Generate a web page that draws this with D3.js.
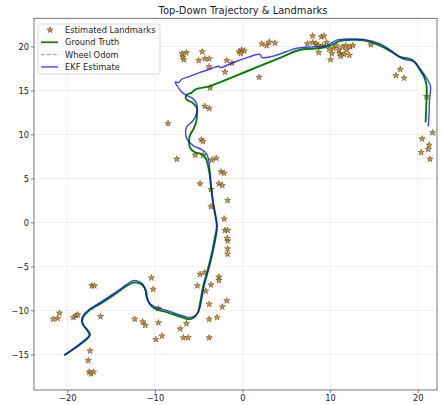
<!DOCTYPE html>
<html>
<head>
<meta charset="utf-8">
<script src="https://cdn.jsdelivr.net/npm/d3@7"></script>
<style>
  body { margin: 0; background: #fff; }
  svg text { font-family: "DejaVu Sans", sans-serif; fill: #222; }
</style>
</head>
<body>
<svg></svg>
<script>
const width = 443, height = 405;
const margin = { left: 34, right: 6, top: 18.3, bottom: 15 };

// data (x, y in metres)
const groundTruth = [
  [-20.35,-15.1],[-19.0,-14.2],[-17.6,-13.1],[-17.45,-12.8],[-17.7,-12.3],[-18.2,-11.6],[-18.3,-11.1],
  [-18.1,-10.6],[-17.5,-10.0],[-16,-9.1],[-14.5,-8.1],[-13.2,-7.2],[-12.5,-6.85],[-12.0,-6.85],[-11.4,-7.15],
  [-11.0,-7.8],[-10.9,-8.5],[-10.6,-9.25],[-10.1,-9.75],[-8.5,-10.25],[-7,-10.75],[-6.2,-11.0],[-5.6,-10.85],
  [-5.1,-10.25],[-4.85,-9.2],[-4.5,-7.3],[-4.0,-5.5],[-3.5,-3.5],[-3.2,-2.0],[-2.94,-0.5],[-3.15,1.0],
  [-3.35,2.2],[-3.6,4.0],[-3.75,5.5],[-4.0,6.7],[-4.15,7.2],[-4.6,7.75],[-5.5,8.0],[-6.0,8.5],[-6.1,9.2],
  [-6.0,9.9],[-5.6,10.6],[-5.3,11.4],[-5.2,12.2],[-5.2,13.0],[-5.7,13.6],[-6.3,13.9],[-6.5,14.3],
  [-6.2,14.6],[-5.8,14.75],[-5.4,15.1],[-3.7,15.5],[-1.4,16.4],[2.0,17.8],[4.5,18.8],[6.5,19.6],
  [8.8,19.8],[10.0,20.1],[11.1,20.6],[12.5,20.75],[13.8,20.7],[15.7,20.1],[17.0,19.4],[17.96,18.8],
  [19.1,18.6],[19.7,18.2],[20.2,17.4],[20.7,16.6],[21.0,15.6],[21.0,14.0],[20.95,12.5],[20.9,11.4]
];
const ekfEstimate = [
  [-20.35,-15.1],[-19.0,-14.15],[-17.6,-13.0],[-17.4,-12.7],[-17.7,-12.2],[-18.25,-11.6],[-18.35,-11.0],
  [-18.1,-10.45],[-17.5,-9.9],[-16,-8.95],[-14.5,-7.95],[-13.2,-7.05],[-12.5,-6.62],[-12.0,-6.65],[-11.4,-7.0],
  [-11.1,-7.7],[-11.0,-8.4],[-10.7,-9.1],[-10.1,-9.55],[-8.5,-10.05],[-7,-10.55],[-6.1,-10.8],[-5.5,-10.65],
  [-5.0,-10.1],[-4.75,-9.2],[-4.4,-7.3],[-3.9,-5.5],[-3.4,-3.5],[-3.05,-1.8],[-2.9,-0.4],[-3.1,1.0],
  [-3.35,2.2],[-3.55,4.0],[-3.7,5.5],[-3.85,7.0],[-4.1,7.8],[-4.6,8.25],[-5.6,8.7],[-6.3,9.4],[-6.5,10.2],
  [-6.35,10.9],[-5.7,11.5],[-5.25,12.4],[-5.2,13.4],[-5.7,14.1],[-6.5,14.5],[-7.1,15.0],[-7.5,15.6],
  [-7.7,15.95],[-7.3,15.9],[-6.9,16.3],[-6.0,16.6],[-5.0,17.0],[-3.9,17.35],[-2.7,17.75],[-2.55,17.6],
  [-1.2,18.1],[0,18.55],[2.0,19.1],[2.2,18.75],[3.5,18.9],[5.0,19.4],[6.2,19.8],[8.0,19.95],[9.6,20.1],
  [10.7,20.7],[12.2,20.85],[13.8,20.8],[15.7,20.3],[17.0,19.5],[18.3,18.6],[19.5,18.3],[20.4,17.3],
  [21.0,16.4],[21.45,15.5],[21.35,14.0],[21.3,12.5],[21.2,10.9]
];
const wheelOdom = []; // not visible in the picture (hidden under the other tracks)
const landmarks = [
  [-21.6,-11.0],[-21.1,-10.9],[-20.9,-10.3],[-19.3,-10.8],[-19.0,-10.6],[-18.8,-10.5],[-17.2,-7.2],[-16.9,-7.2],
  [-16.2,-10.7],[-17.4,-14.6],[-17.6,-15.7],[-17.5,-17.0],[-17.3,-17.2],[-17.0,-17.0],
  [-12.3,-11.0],[-11.4,-11.3],[-11.1,-11.7],[-10.4,-6.3],[-10.2,-7.6],[-9.6,-9.8],[-9.6,-11.4],[-9.2,-12.9],
  [-9.9,-13.3],[-7.1,-12.1],[-6.75,-13.1],[-6.2,-13.1],[-6.4,-11.5],
  [-4.85,-5.9],[-4.3,-5.7],[-2.7,-6.2],[-2.7,-6.6],[-3.6,-7.1],[-5.15,-7.2],[-4.2,-7.8],[-1.8,-8.9],
  [-2.3,-9.6],[-3.8,-9.3],[-2.9,-10.8],[-3.8,-11.0],[-3.8,-13.1],
  [-1.7,-3.6],[-1.7,-3.0],[-1.7,-2.1],[-1.75,-1.8],[-2.0,-0.9],[-1.7,-0.9],[-2.1,0.4],[-3.6,1.8],[-1.7,2.5],
  [-4.85,4.4],[-3.6,3.75],[-2.7,4.4],[-2.3,4.2],[-2.45,5.75],[-2.1,5.6],[-3.5,7.1],[-3.0,7.3],[-5.4,7.65],
  [-4.5,7.6],[-7.5,7.2],[-4.7,9.4],[-4.5,9.2],[-8.5,11.25],[-4.3,13.2],[-3.8,12.95],[-3.7,15.3],[1.9,16.5],
  [-6.9,19.2],[-6.4,19.3],[-6.8,18.8],[-6.7,18.5],[-4.6,19.4],[-5.0,18.4],[-4.3,18.6],[-3.8,18.6],[-3.8,17.7],
  [-1.8,18.4],[-1.2,18.1],[-2.0,17.1],[-0.4,19.4],[-0.1,19.6],[0.2,19.5],[-0.2,19.2],[2.2,20.3],[2.75,20.1],
  [3.05,20.5],[3.7,20.4],
  [8.0,21.2],[9.0,21.1],[9.3,21.2],[7.4,20.3],[8.0,20.45],[8.4,20.3],[8.65,20.1],[9.15,20.1],[9.6,20.45],
  [8.7,19.3],[9.9,19.7],[10.2,19.2],[10.05,18.5],[10.4,19.8],[10.7,20.1],[11.0,19.6],[11.4,19.95],[11.1,19.2],
  [11.6,19.1],[11.2,18.9],[11.9,19.6],[12.2,19.0],[11.8,20.1],[12.3,19.95],[12.6,20.1],[14.65,20.2],
  [17.5,16.7],[18.0,17.4],[18.45,16.4],[21.0,14.3],[21.7,10.2],[20.5,9.5],[21.3,8.8],[21.2,8.3],[20.4,7.95],[21.4,7.2]
];
const xTicks = [-20, -10, 0, 10, 20];
const yTicks = [-15, -10, -5, 0, 5, 10, 15, 20];

const svg = d3.select("svg").attr("width", width).attr("height", height);

const x = d3.scaleLinear().domain([-23.8, 22.2]).range([margin.left, width - margin.right]);
const y = d3.scaleLinear().domain([-19.05, 23.2]).range([height - margin.bottom, margin.top]);

const fmt = d => (d < 0 ? "\u2212" + Math.abs(d) : "" + d);

// grid
svg.append("g").selectAll("line").data(xTicks).join("line")
  .attr("x1", d => x(d)).attr("x2", d => x(d))
  .attr("y1", y.range()[0]).attr("y2", y.range()[1])
  .attr("stroke", "#b0b0b0").attr("stroke-opacity", 0.3).attr("stroke-width", 0.7);
svg.append("g").selectAll("line").data(yTicks).join("line")
  .attr("y1", d => y(d)).attr("y2", d => y(d))
  .attr("x1", x.range()[0]).attr("x2", x.range()[1])
  .attr("stroke", "#b0b0b0").attr("stroke-opacity", 0.3).attr("stroke-width", 0.7);

const line = d3.line().x(d => x(d[0])).y(d => y(d[1])).curve(d3.curveCatmullRom.alpha(0.5));

// landmarks
const starColor = "#e0962a", starEdge = "#3a2a10";
svg.append("g").selectAll("path").data(landmarks).join("path")
  .attr("transform", d => `translate(${x(d[0])},${y(d[1])})`)
  .attr("d", d3.symbol(d3.symbolStar, 12))
  .attr("fill", starColor).attr("stroke", starEdge).attr("stroke-width", 0.45);

// tracks
svg.append("path").attr("fill", "none").attr("stroke", "green").attr("stroke-width", 1.9)
  .attr("stroke-linejoin", "round").attr("d", line(groundTruth));
if (wheelOdom.length)
  svg.append("path").attr("fill", "none").attr("stroke", "red").attr("stroke-opacity", 0.5)
    .attr("stroke-dasharray", "4,2").attr("d", line(wheelOdom));
svg.append("path").attr("fill", "none").attr("stroke", "blue").attr("stroke-opacity", 0.75)
  .attr("stroke-width", 1.4).attr("stroke-linejoin", "round").attr("d", line(ekfEstimate));

// axes
const xAxis = svg.append("g").attr("transform", `translate(0,${height - margin.bottom})`)
  .call(d3.axisBottom(x).tickValues(xTicks).tickFormat(fmt).tickSize(3).tickPadding(2));
const yAxis = svg.append("g").attr("transform", `translate(${margin.left},0)`)
  .call(d3.axisLeft(y).tickValues(yTicks).tickFormat(fmt).tickSize(3).tickPadding(2));
[xAxis, yAxis].forEach(a => {
  a.selectAll("text").style("font-size", "8.3px").attr("fill", "#222");
  a.selectAll("line").attr("stroke", "#444").attr("stroke-width", 0.7);
  a.select(".domain").remove();
});
// frame
svg.append("rect")
  .attr("x", x.range()[0]).attr("y", y.range()[1])
  .attr("width", x.range()[1] - x.range()[0]).attr("height", y.range()[0] - y.range()[1])
  .attr("fill", "none").attr("stroke", "#555").attr("stroke-width", 0.8);

// title
svg.append("text").attr("x", 243).attr("y", 13.5).attr("text-anchor", "middle")
  .style("font-size", "9.9px").text("Top-Down Trajectory & Landmarks");

// legend
const lg = svg.append("g").attr("transform", "translate(38,24)");
lg.append("rect").attr("width", 122).attr("height", 50).attr("rx", 2)
  .attr("fill", "#fff").attr("fill-opacity", 0.8).attr("stroke", "#d0d0d0").attr("stroke-width", 0.8);
const items = [
  { label: "Estimated Landmarks", type: "star" },
  { label: "Ground Truth", color: "green", op: 1, width: 1.7 },
  { label: "Wheel Odom", color: "red", op: 0.5, width: 1, dash: "4,2" },
  { label: "EKF Estimate", color: "blue", op: 0.6, width: 1.7 }
];
items.forEach((it, i) => {
  const yy = 6 + i * 12.3;
  if (it.type === "star") {
    lg.append("path").attr("transform", `translate(12,${yy})`)
      .attr("d", d3.symbol(d3.symbolStar, 12))
      .attr("fill", starColor).attr("stroke", starEdge).attr("stroke-width", 0.45);
  } else {
    lg.append("line").attr("x1", 3).attr("x2", 20).attr("y1", yy).attr("y2", yy)
      .attr("stroke", it.color).attr("stroke-opacity", it.op).attr("stroke-width", it.width)
      .attr("stroke-dasharray", it.dash || null);
  }
  lg.append("text").attr("x", 27).attr("y", yy + 3).style("font-size", "8.3px").text(it.label);
});
</script>
</body>
</html>
